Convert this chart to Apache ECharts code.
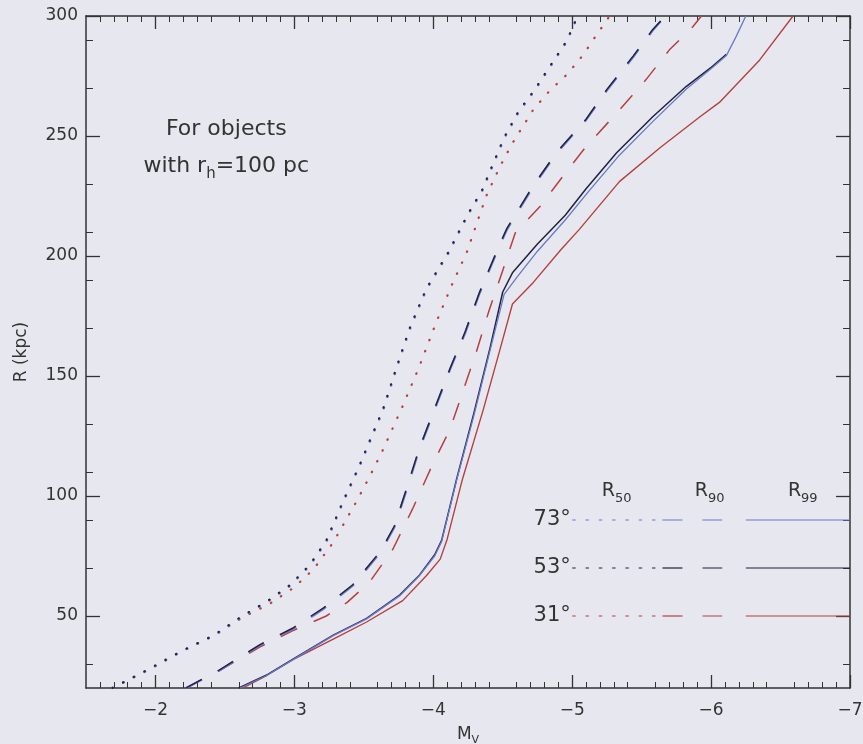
<!DOCTYPE html>
<html>
<head>
<meta charset="utf-8">
<script src="https://cdn.jsdelivr.net/npm/echarts@6/dist/echarts.min.js"></script>
<style>
html,body{margin:0;padding:0;background:#e7e7ef;}
#c{width:863px;height:744px;}
</style>
</head>
<body>
<div id="c"></div>
<script>
// ---- tick labels ----
const xTickValues = [-7, -6, -5, -4, -3, -2];
const yTickValues = [50, 100, 150, 200, 250, 300];

// ---- curves: [M_V, R (kpc)] ----
// 31 deg (red)
const r50_31 = [[-1.69,20],[-1.94,27.3],[-2.18,35],[-2.42,41.8],[-2.63,49.5],[-2.82,55],[-3.00,62],[-3.14,69.6],[-3.28,80.7],[-3.45,98],[-3.55,109],[-3.64,119.5],[-3.78,137.5],[-3.90,154],[-4.02,172.2],[-4.14,188.8],[-4.24,201.3],[-4.38,224.8],[-4.48,237.3],[-4.57,247],[-4.72,261],[-4.84,269],[-4.96,275.5],[-5.08,283.8],[-5.15,290],[-5.27,300]];
const r90_31 = [[-2.22,20],[-2.46,27.3],[-2.75,37],[-2.99,43.9],[-3.23,50],[-3.38,55.7],[-3.54,64],[-3.71,77.9],[-3.85,94.5],[-3.99,112.5],[-4.12,127.8],[-4.21,143],[-4.31,160],[-4.40,177],[-4.50,194],[-4.59,209.6],[-4.77,220.7],[-4.93,233],[-5.10,245.6],[-5.32,259.5],[-5.53,273.4],[-5.70,285.9],[-5.87,295.6],[-5.93,300]];
const r99_31 = [[-2.63,20],[-2.80,25.2],[-2.99,31.8],[-3.28,40.4],[-3.52,47.5],[-3.78,56.4],[-3.95,66.8],[-4.05,73.7],[-4.10,82],[-4.21,107],[-4.36,136],[-4.48,161],[-4.57,180],[-4.72,189],[-4.92,202.7],[-5.05,211],[-5.34,231],[-5.63,245],[-5.92,258],[-6.06,264],[-6.35,281.7],[-6.59,300]];
// 53 deg (black)
const r50_53 = [[-1.69,20],[-1.94,27.5],[-2.18,35.2],[-2.42,42],[-2.63,50.2],[-2.80,56],[-2.97,63],[-3.11,71.3],[-3.23,81.5],[-3.35,97.8],[-3.47,113],[-3.52,120],[-3.64,136.5],[-3.74,154.5],[-3.83,170],[-3.95,186.5],[-4.11,201.8],[-4.25,217.6],[-4.35,227.3],[-4.43,238.4],[-4.51,249.4],[-4.61,260],[-4.73,269.4],[-4.85,280],[-4.96,289.6],[-5.04,300]];
const r90_53 = [[-2.22,20],[-2.46,27.5],[-2.75,38],[-2.99,45],[-3.21,53.4],[-3.42,63],[-3.62,77],[-3.72,87.5],[-3.81,103.5],[-3.90,120],[-4.01,136.5],[-4.12,153],[-4.23,168.5],[-4.33,184.5],[-4.47,203.8],[-4.53,211.5],[-4.72,229.4],[-4.89,243.4],[-5.10,257],[-5.25,269.4],[-5.44,283.4],[-5.58,294.4],[-5.67,300]];
const r99_53 = [[-2.60,20],[-2.80,25.4],[-2.99,32],[-3.28,42],[-3.52,49],[-3.76,58.8],[-3.90,67],[-4.01,75.5],[-4.06,81.5],[-4.17,107.5],[-4.29,134],[-4.41,162],[-4.50,185],[-4.57,193],[-4.75,205],[-4.95,217],[-5.10,228],[-5.32,243],[-5.58,258],[-5.82,270.6],[-6.01,279],[-6.11,284]];
// 73 deg (blue)
const r50_73 = [[-1.69,20],[-1.94,27.3],[-2.18,35],[-2.42,41.8],[-2.63,50],[-2.80,55.7],[-2.97,62.6],[-3.11,70.9],[-3.23,81],[-3.35,97.3],[-3.47,112.5],[-3.52,119.5],[-3.64,136],[-3.74,154],[-3.83,169.4],[-3.95,186],[-4.11,201.3],[-4.25,217.2],[-4.35,226.9],[-4.43,238],[-4.51,249],[-4.61,259.5],[-4.73,269],[-4.85,279.6],[-4.96,289.3],[-5.04,300]];
const r90_73 = [[-2.22,20],[-2.46,27.3],[-2.75,37.7],[-2.99,44.6],[-3.21,53],[-3.42,62.6],[-3.62,76.5],[-3.72,87],[-3.81,103],[-3.90,119.5],[-4.01,136],[-4.12,152.7],[-4.23,168],[-4.33,184],[-4.47,203.4],[-4.53,211],[-4.72,229],[-4.89,243],[-5.10,256.7],[-5.25,269],[-5.44,283],[-5.58,294],[-5.67,300]];
const r99_73 = [[-2.61,20],[-2.80,25.2],[-2.99,31.8],[-3.28,41.8],[-3.52,48.8],[-3.76,58.5],[-3.90,66.8],[-4.01,75],[-4.06,81],[-4.17,107],[-4.29,133],[-4.41,161],[-4.51,184],[-4.60,191],[-4.75,202],[-4.95,215],[-5.12,227],[-5.34,242],[-5.58,256],[-5.82,269.5],[-6.01,278.5],[-6.11,283.5],[-6.18,291.4],[-6.25,300]];

// ---- key ----
const keyAngles = ['73°', '53°', '31°'];
const keyR = [90, 70, 50];
const keyHeaders = ['50', '90', '99'];
const keyDotted = [-5.0, -5.65];
const keyDashed = [-5.65, -6.08];
const keySolid = [-6.25, -7.0];

const BLUE = '#6a78cc', BLACK = '#22223a', RED = '#b5403f';
const rowColors = [BLUE, BLACK, RED];
const AX = '#333333';
const FONT = 'DejaVu Sans';

function xAxisCfg(pos, showLabel) {
  return {
    type: 'value', position: pos, min: -7, max: -1.5, inverse: true, interval: 0.5,
    axisLine: { show: true, onZero: false, lineStyle: { color: AX, width: 1.5 } },
    axisTick: { show: true, inside: true, length: 13, customValues: xTickValues, lineStyle: { color: AX, width: 1.3 } },
    minorTick: { show: true, splitNumber: 5, length: 6, lineStyle: { color: AX, width: 1 } },
    axisLabel: { show: showLabel, customValues: xTickValues, margin: 14, color: AX, fontFamily: FONT, fontSize: 17,
      formatter: v => String(v).replace('-', '\u2212') },
    splitLine: { show: false }, minorSplitLine: { show: false },
    name: showLabel ? 'M{s|V}' : '', nameLocation: 'middle', nameGap: 36,
    nameTextStyle: { color: AX, fontFamily: FONT, fontSize: 17, lineHeight: 22,
      rich: { s: { fontSize: 11, fontFamily: FONT, color: AX, verticalAlign: 'bottom', lineHeight: 12 } } }
  };
}
function yAxisCfg(pos, showLabel) {
  return {
    type: 'value', position: pos, min: 20, max: 300, interval: 20,
    axisLine: { show: true, onZero: false, lineStyle: { color: AX, width: 1.5 } },
    axisTick: { show: true, inside: true, length: 14, customValues: yTickValues, lineStyle: { color: AX, width: 1.3 } },
    minorTick: { show: true, splitNumber: 2, length: 7, lineStyle: { color: AX, width: 1 } },
    axisLabel: { show: showLabel, customValues: yTickValues, margin: 8, color: AX, fontFamily: FONT, fontSize: 17 },
    splitLine: { show: false }, minorSplitLine: { show: false },
    name: showLabel ? 'R (kpc)' : '', nameLocation: 'middle', nameGap: 56, nameRotate: 90,
    nameTextStyle: { color: AX, fontFamily: FONT, fontSize: 17 }
  };
}

function curve(data, color, width, dash, cap) {
  return {
    type: 'line', data: data, xAxisIndex: 0, yAxisIndex: 0,
    showSymbol: false, symbol: 'none', silent: true, animation: false,
    lineStyle: { color: color, width: width, type: dash, cap: cap || 'butt', join: 'round' }
  };
}
const DOT = [0.5, 11.5];
const DASH = [18, 18];

const series = [
  curve(r50_31, RED, 2.2, DOT, 'round'),
  curve(r90_31, RED, 1.5, DASH),
  curve(r99_31, RED, 1.4, 'solid'),
  curve(r50_73, BLUE, 2.6, DOT, 'round'),
  curve(r90_73, BLUE, 2.2, DASH),
  curve(r99_53, BLACK, 1.5, 'solid'),
  curve(r99_73, BLUE, 1.3, 'solid'),
  curve(r50_53, BLACK, 2.0, DOT, 'round'),
  curve(r90_53, BLACK, 1.4, DASH)
];

// key lines
keyR.forEach((r, i) => {
  const c = rowColors[i];
  series.push(curve([[keyDotted[0], r], [keyDotted[1], r]], c, 1.1, [3.5, 9.8]));
  series.push(curve([[keyDashed[0], r], [keyDashed[1], r]], c, 1.2, [20, 20]));
  series.push(curve([[keySolid[0], r], [keySolid[1], r]], c, 1.2, 'solid'));
});

function textSeries(points, fontSize, align) {
  return {
    type: 'scatter', xAxisIndex: 0, yAxisIndex: 0, silent: true, animation: false,
    symbolSize: 1, itemStyle: { color: 'transparent', opacity: 1 },
    data: points.map(p => ({ value: [p[0], p[1]], label: { formatter: p[2] } })),
    label: { show: true, position: 'inside', align: align || 'center', verticalAlign: 'middle',
      color: AX, opacity: 1, fontFamily: FONT, fontSize: fontSize, lineHeight: fontSize + 8,
      rich: {
        s: { fontSize: Math.round(fontSize * 0.68), fontFamily: FONT, color: AX, verticalAlign: 'bottom', lineHeight: 12 }
      } }
  };
}

// annotations
series.push(textSeries([[-2.51, 252.6, 'For objects'], [-2.51, 237.2, 'with r{s|h}=100 pc']], 22));
series.push(textSeries(keyHeaders.map((h, i) => [[-5.32, -5.99, -6.66][i], 102, 'R{s|' + h + '}']), 19));
series.push(textSeries(keyAngles.map((a, i) => [-4.99, keyR[i], a]), 21, 'right'));

const chart = echarts.init(document.getElementById('c'), null, { renderer: 'canvas' });
chart.setOption({
  backgroundColor: '#e7e7ef',
  animation: false,
  grid: { left: 86, right: 13, top: 16, bottom: 56, containLabel: false, outerBoundsMode: 'none' },
  xAxis: [xAxisCfg('bottom', true), xAxisCfg('top', false)],
  yAxis: [yAxisCfg('left', true), yAxisCfg('right', false)],
  series: series
});
</script>
</body>
</html>
